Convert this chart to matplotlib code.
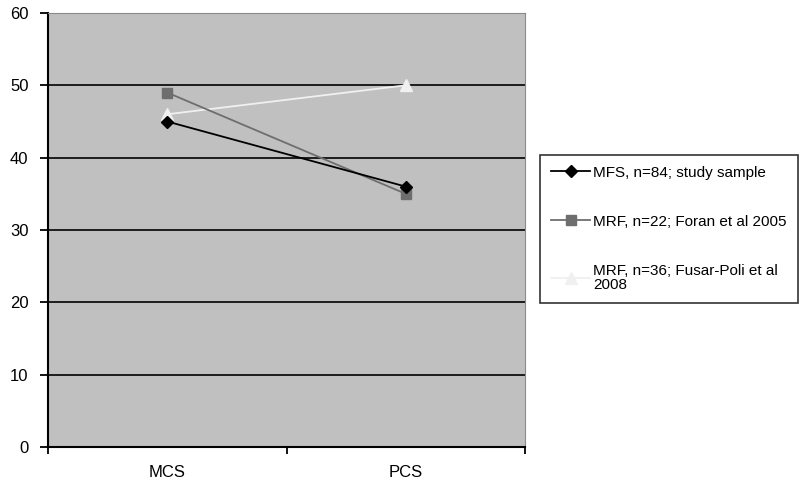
import matplotlib
matplotlib.use("Agg")
import matplotlib.pyplot as plt

categories = ["MCS", "PCS"]
mfs_study = [45, 36]
mrf_foran = [49, 35]
mrf_fusar = [46, 50]
labels = ["MFS, n=84; study sample",
          "MRF, n=22; Foran et al 2005",
          "MRF, n=36; Fusar-Poli et al\n2008"]
yticks = [0, 10, 20, 30, 40, 50, 60]

plt.rcParams['font.family'] = ['Liberation Sans', 'DejaVu Sans']

fig = plt.figure(figsize=(8.01, 4.82), dpi=100)
ax = fig.add_axes([48/801, 35/482, 477/801, 434/482])
ax.set_facecolor('#c0c0c0')

x = list(range(len(categories)))
ax.plot(x, mfs_study, color='black', marker='D', markersize=6, lw=1.3, label=labels[0], zorder=5)
ax.plot(x, mrf_foran, color='#6e6e6e', marker='s', markersize=7, lw=1.3, label=labels[1], zorder=4)
ax.plot(x, mrf_fusar, color='#f0f0f0', marker='^', markersize=8, lw=1.3, label=labels[2], zorder=3)

ax.set_xlim(-0.5, len(categories) - 0.5)
ax.set_ylim(0, 60)
ax.set_yticks(yticks)
for yv in yticks[1:-1]:
    ax.axhline(yv, color='black', lw=1.2, zorder=1)

ax.set_xticks(x)
ax.set_xticklabels(categories)
ax.set_xticks([i - 0.5 for i in range(len(categories) + 1)], minor=True)
ax.tick_params(axis='x', which='major', length=0, pad=13, labelsize=12)
ax.tick_params(axis='x', which='minor', length=5, width=1.3, direction='out')
ax.tick_params(axis='y', length=6, width=1.3, direction='out', labelsize=12, pad=8)

for s in ['left', 'bottom']:
    ax.spines[s].set_color('black')
    ax.spines[s].set_linewidth(1.5)
for s in ['top', 'right']:
    ax.spines[s].set_color('#8a8a8a')
    ax.spines[s].set_linewidth(0.8)

leg = fig.legend(loc='upper left', bbox_to_anchor=(540/801, 1 - 155/482),
                 fontsize=11, frameon=True, fancybox=False, edgecolor='black',
                 labelspacing=2.3, handlelength=2.6, handletextpad=0.2,
                 borderpad=0.7, borderaxespad=0)
leg.get_frame().set_linewidth(1.2)
leg.get_frame().set_facecolor('white')
for t in leg.get_texts():
    t.set_linespacing(1.0)

fig.savefig('out.png', dpi=100, facecolor='white')
